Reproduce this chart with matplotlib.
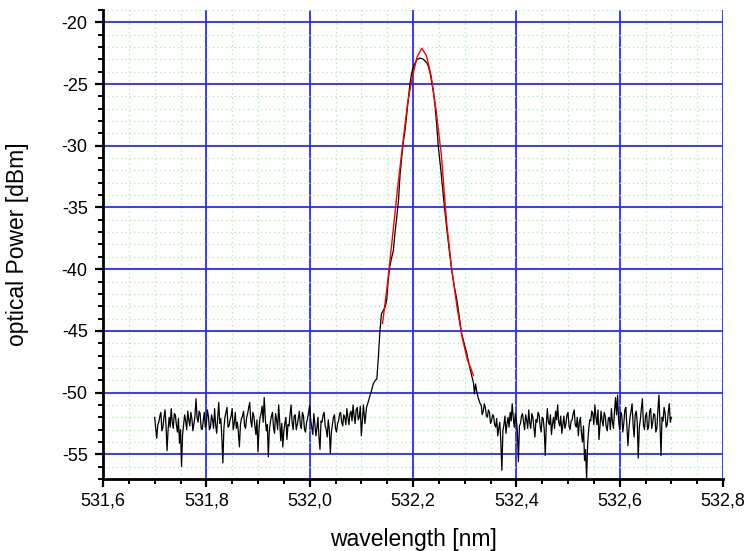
import numpy as np
import matplotlib
matplotlib.use("Agg")
import matplotlib.pyplot as plt
from matplotlib.ticker import MultipleLocator, FuncFormatter

# ---- data ----
# left noise floor: starts at 531.700 nm, sample step 0.002 nm
left_start, left_step = 531.700, 0.002
left_noise = [
    -52.0, -52.9, -53.7, -52.6, -52.4, -51.9, -51.6, -53.1, -52.8, -52.0,
    -51.4, -52.7, -54.7, -53.0, -52.0, -52.8, -51.3, -52.4, -52.9, -51.7,
    -51.8, -52.6, -53.2, -52.1, -54.1, -53.0, -56.0, -53.4, -52.6, -51.8,
    -52.3, -53.0, -51.5, -52.2, -52.7, -51.6, -52.1, -53.1, -52.5, -51.9,
    -50.5, -52.0, -52.4, -51.5, -51.7, -52.9, -53.0, -52.3, -51.6, -52.8,
    -52.6, -51.4, -51.9, -53.0, -52.8, -51.8, -52.2, -52.9, -51.3, -52.6,
    -53.3, -52.0, -50.8, -52.5, -52.1, -53.6, -55.7, -52.9, -52.0, -51.6,
    -51.2, -52.8, -52.7, -52.2, -51.9, -51.3, -53.0, -52.5, -51.6, -52.9,
    -52.4, -53.2, -54.4, -52.6, -52.1, -51.9, -51.5, -52.7, -52.9, -52.0,
    -51.7, -51.2, -50.8, -52.3, -52.8, -51.6, -51.9, -52.7, -53.4, -52.2,
    -54.8, -52.9, -52.0, -51.7, -51.1, -52.4, -50.4, -52.0, -53.1, -52.6,
    -55.2, -53.0, -52.4, -51.9, -51.6, -52.8, -53.3, -51.7, -52.2, -53.0,
    -51.0, -52.3, -53.9, -52.5, -54.4, -53.1, -52.5, -52.0, -53.8, -52.6,
    -52.7, -51.8, -51.0, -52.4, -53.0, -51.9, -51.8, -53.0, -52.6, -52.1,
    -51.5, -52.7, -52.9, -51.6, -51.9, -53.0, -53.2, -52.4, -52.1, -51.6,
    -51.0, -52.2, -52.8, -53.4, -51.7, -52.5, -53.5, -52.9, -52.0, -53.6,
    -54.6, -52.3, -52.4, -51.8, -51.6, -52.7, -53.0, -53.6, -52.2, -53.0,
    -54.9, -53.2, -52.6, -52.0, -51.8, -52.9, -53.2, -52.5, -52.3, -51.7,
    -51.6, -52.4, -52.7, -51.8, -52.0, -52.6, -51.3, -52.0, -52.6, -51.7,
    -51.5, -52.3, -51.0, -51.9, -52.5, -51.4, -51.2, -52.2, -52.0, -51.1,
    -53.5,
]

# peak region (measured)
peak_x = [
    532.104, 532.107, 532.110, 532.113, 532.117, 532.120, 532.123, 532.127,
    532.130, 532.133, 532.136, 532.139, 532.143, 532.146, 532.149, 532.152,
    532.155, 532.159, 532.162, 532.165, 532.168, 532.172, 532.175, 532.178,
    532.181, 532.185, 532.188, 532.191, 532.194, 532.197, 532.200, 532.204,
    532.208, 532.213, 532.218, 532.223, 532.227, 532.230, 532.233, 532.236,
    532.240, 532.243, 532.246, 532.249, 532.254, 532.259, 532.262, 532.265,
    532.270, 532.275, 532.280, 532.285, 532.290, 532.294, 532.299, 532.304,
    532.309, 532.314, 532.317, 532.319, 532.321, 532.323, 532.326, 532.330,
]
peak_y = [
    -51.0, -52.5, -51.2, -50.8, -50.2, -49.8, -49.3, -49.0,
    -48.9, -47.1, -45.0, -43.6, -43.3, -43.1, -42.5, -40.9,
    -39.8, -39.0, -38.5, -37.1, -36.0, -34.4, -32.3, -31.0,
    -29.8, -28.6, -27.4, -26.2, -25.0, -24.2, -23.7, -23.3,
    -23.0, -22.9, -22.95, -23.1, -23.3, -23.6, -24.1, -24.8,
    -25.8, -26.9, -28.4, -30.1, -32.0, -34.2, -35.4, -36.6,
    -38.4, -40.1, -41.4, -42.5, -44.0, -45.2, -46.0, -46.8,
    -47.8, -48.7, -49.2, -50.1, -49.3, -49.8, -50.4, -50.9,
]

# right noise floor: starts at 532.332 nm, sample step 0.002 nm
right_start, right_step = 532.332, 0.002
right_noise = [
    -51.0, -51.8, -51.5, -50.9, -51.2, -51.9, -52.0, -51.4, -51.6, -52.5,
    -52.3, -51.8, -51.9, -52.6, -52.8, -52.1, -53.5, -52.9, -52.4, -54.0,
    -56.3, -53.1, -52.6, -51.9, -53.3, -52.5, -52.0, -52.8, -51.6, -52.3,
    -50.9, -52.0, -52.8, -51.7, -52.2, -53.1, -55.6, -52.7, -52.5, -51.9,
    -51.7, -52.4, -53.0, -51.8, -52.2, -52.9, -51.4, -52.5, -52.9, -51.7,
    -52.0, -52.8, -53.6, -52.2, -52.4, -51.6, -51.8, -52.7, -53.2, -52.0,
    -52.1, -53.0, -55.1, -52.6, -51.3, -52.4, -52.6, -51.8, -53.4, -52.5,
    -52.0, -52.9, -51.5, -52.2, -51.0, -52.4, -52.7, -51.9, -53.3, -52.6,
    -51.9, -52.9, -52.5, -51.8, -51.6, -52.7, -53.0, -52.3, -52.2, -51.7,
    -51.4, -52.6, -52.8, -52.0, -53.5, -52.4, -52.0, -53.3, -54.0, -52.7,
    -55.5, -54.6, -57.0, -54.2, -53.0, -52.2, -52.3, -51.5, -51.7, -52.6,
    -51.0, -52.0, -52.6, -51.4, -53.8, -52.7, -51.5, -52.3, -52.7, -51.6,
    -51.9, -52.8, -53.1, -52.1, -52.0, -53.0, -51.3, -52.4, -52.9, -51.5,
    -50.4, -51.8, -50.2, -52.3, -53.0, -51.6, -51.8, -53.2, -52.5, -51.4,
    -51.2, -52.7, -54.3, -52.9, -52.0, -51.5, -50.9, -52.6, -53.6, -51.8,
    -51.5, -52.4, -55.3, -52.8, -52.2, -51.3, -50.5, -52.6, -53.0, -51.9,
    -51.6, -53.0, -52.8, -51.5, -51.3, -52.9, -52.4, -51.7, -51.8, -53.2,
    -52.9, -51.4, -50.2, -52.5, -55.1, -52.0, -52.3, -51.2, -51.7, -52.8,
    -52.6, -51.6, -50.9, -52.4, -52.0,
]

# fitted curve (red)
fit_x = [532.141, 532.150, 532.160, 532.170, 532.180, 532.190, 532.200,
         532.208, 532.217, 532.226, 532.235, 532.245, 532.255, 532.265,
         532.275, 532.285, 532.295, 532.305, 532.317]
fit_y = [-44.4, -41.4, -37.5, -33.5, -29.9, -26.4, -24.2,
         -22.8, -22.1, -22.7, -24.3, -27.2, -30.8, -36.2,
         -40.0, -43.0, -45.5, -47.3, -48.6]

xticks = [531.6, 531.8, 532.0, 532.2, 532.4, 532.6, 532.8]
yticks = [-55, -50, -45, -40, -35, -30, -25, -20]

# ---- assemble measured series ----
lx = left_start + left_step * np.arange(len(left_noise))
rx = right_start + right_step * np.arange(len(right_noise))
meas_x = np.concatenate([lx, np.array(peak_x), rx])
meas_y = np.concatenate([np.array(left_noise), np.array(peak_y), np.array(right_noise)])

plt.rcParams['font.family'] = ['Liberation Sans', 'DejaVu Sans']

fig = plt.figure(figsize=(7.47, 5.51), dpi=100)
ax = fig.add_axes([103 / 747, 72 / 551, 620 / 747, 469 / 551])

ax.plot(meas_x, meas_y, color='black', lw=0.9, zorder=3)
ax.plot(fit_x, fit_y, color='#ff0000', lw=1.0, zorder=4)

ax.set_xlim(531.6, 532.8)
ax.set_ylim(-57.0, -19.0)
ax.set_xticks(xticks)
ax.set_yticks(yticks)
ax.xaxis.set_minor_locator(MultipleLocator(0.05))
ax.yaxis.set_minor_locator(MultipleLocator(1))
ax.xaxis.set_major_formatter(FuncFormatter(lambda v, p: f"{v:.1f}".replace('.', ',')))
ax.yaxis.set_major_formatter(FuncFormatter(lambda v, p: f"{v:.0f}"))

ax.set_axisbelow(True)
ax.grid(which='minor', color='#a8eea8', linestyle=(0, (1, 2.5)), lw=0.9)
ax.grid(which='major', color='#2a2aff', linestyle='-', lw=1.3)

for s in ['top', 'right']:
    ax.spines[s].set_visible(False)
for s in ['left', 'bottom']:
    ax.spines[s].set_linewidth(2.0)
    ax.spines[s].set_color('black')

ax.tick_params(axis='both', which='major', direction='out', length=6, width=1.6,
               labelsize=13)
ax.tick_params(axis='both', which='minor', direction='out', length=3.5, width=1.4)
ax.tick_params(axis='x', which='major', pad=3.5)
ax.tick_params(axis='y', which='major', pad=5)

ax.set_xlabel('wavelength [nm]', fontsize=16.5)
ax.set_ylabel('optical Power [dBm]', fontsize=16.5)
ax.xaxis.set_label_coords(0.5, -0.105)
ax.yaxis.set_label_coords(-0.12, 0.5)

fig.savefig('out.png', dpi=100)
